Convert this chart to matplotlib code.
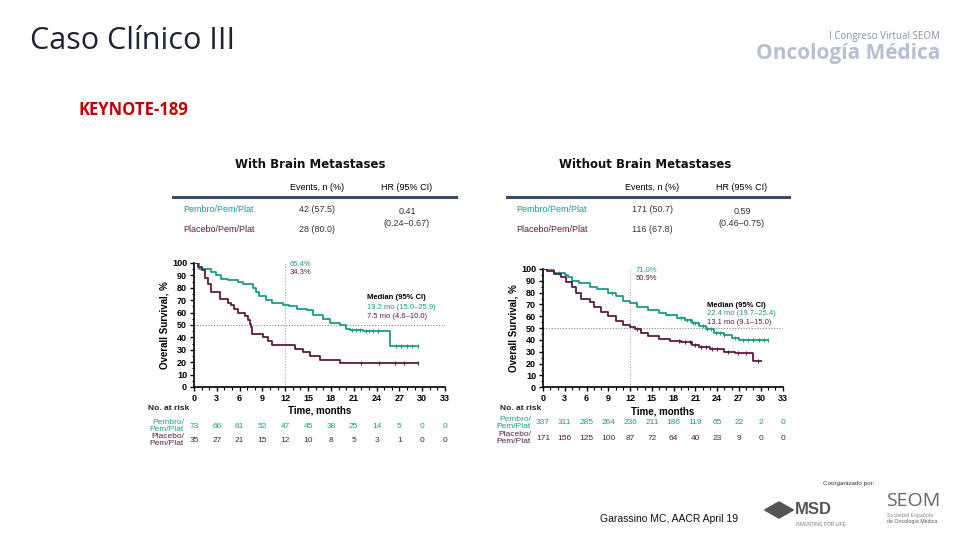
import numpy as np
import matplotlib
matplotlib.use("Agg")
import matplotlib.pyplot as plt
from matplotlib.ticker import MultipleLocator
import matplotlib.transforms as mtrans

plt.rcParams['font.family'] = ['Liberation Sans', 'DejaVu Sans']

TEAL = '#1f9a8a'
PURP = '#5a1d40'
GRAY = '#777777'

# ---------------- data ----------------
months_ticks = [0, 3, 6, 9, 12, 15, 18, 21, 24, 27, 30, 33]

# With brain metastases
wb_pem_t = [0, 0.66, 2.3, 2.9, 3.6, 4.5, 5.8, 6.5, 7.8, 8.2, 8.6, 9.5, 10.2, 11.7, 12.5, 13.5,
            14.8, 15.7, 17.0, 17.9, 19.2, 20.0, 20.5, 22.2, 25.8]
wb_pem_s = [100, 95, 93, 90, 87, 86, 85, 83, 80, 77, 73, 70, 68, 66, 65, 63,
            62, 58, 55, 52, 50, 47, 46, 45, 33]
wb_pem_end = 29.5
wb_pem_cens = [20.8, 21.3, 21.8, 22.6, 23.0, 23.5, 24.2, 26.5, 27.2, 28.0, 28.6, 29.5]

wb_pla_t = [0, 0.5, 1.0, 1.4, 1.8, 2.3, 3.4, 4.5, 4.9, 5.3, 5.8, 6.7, 7.1, 7.3, 7.5, 7.6,
            9.1, 9.7, 10.2, 13.3, 14.3, 15.2, 16.5, 19.2]
wb_pla_s = [100, 97, 94, 88, 83, 77, 71, 68, 66, 63, 60, 57, 54, 51, 48, 43,
            40, 37, 34, 31, 28, 25, 22, 19]
wb_pla_end = 29.5
wb_pla_cens = [22.0, 24.3, 26.4, 27.6, 29.5]

wb_risk_pem = [73, 66, 61, 52, 47, 45, 38, 25, 14, 5, 0, 0]
wb_risk_pla = [35, 27, 21, 15, 12, 10, 8, 5, 3, 1, 0, 0]

# Without brain metastases
nb_pem_t = [0, 0.5, 1.5, 3, 3.5, 4, 5, 6.5, 7.5, 9, 10, 11, 12, 13, 14.5, 16, 17, 18.5,
            19.5, 20.5, 21.5, 22.5, 23.5, 25, 26, 27]
nb_pem_s = [100, 99, 97, 95, 93, 90, 88, 85, 83, 80, 77, 73, 71, 68, 65, 63, 61, 59,
            57, 54, 52, 49, 46, 44, 42, 40]
nb_pem_end = 31.0
nb_pem_cens = [2.2, 4.0, 9.5, 12.8, 19.0, 19.4, 19.8, 20.2, 20.6, 21.0, 21.4, 22.0, 22.6,
               23.2, 23.8, 24.4, 25.0, 26.5, 27.5, 28.2, 29.0, 29.8, 30.5, 31.0]

nb_pla_t = [0, 0.5, 1.5, 2.5, 3.2, 4, 4.5, 5.3, 6.5, 7, 8, 9, 10, 11, 12, 12.7, 13.5,
            14.5, 16, 17.5, 19, 20.5, 21.5, 23, 25, 26.5, 29]
nb_pla_s = [100, 98, 96, 93, 89, 85, 80, 75, 72, 68, 64, 60, 56, 53, 51, 49, 46,
            43, 41, 39, 38, 36, 34, 32, 30, 29, 22]
nb_pla_end = 30.0
nb_pla_cens = [13.0, 18.8, 19.6, 20.2, 21.0, 21.8, 22.5, 23.3, 24.0, 25.5, 26.8, 28.0, 29.6]

nb_risk_pem = [337, 311, 285, 264, 236, 211, 186, 119, 65, 22, 2, 0]
nb_risk_pla = [171, 156, 125, 100, 87, 72, 64, 40, 23, 9, 0, 0]

fig = plt.figure(figsize=(9.6, 5.4), dpi=100)
fig.patch.set_facecolor('white')

def px(x, y):
    return x / 960, 1 - y / 540

def step_val(t, s, x):
    idx = np.searchsorted(t, x, side='right') - 1
    return np.array(s)[idx]

def km(ax, t, s, end, cens, color):
    tt = list(t) + [end]
    ss = list(s) + [s[-1]]
    ax.step(tt, ss, where='post', color=color, lw=1.3, zorder=3)
    cy = step_val(np.array(t), s, np.array(cens))
    ax.plot(cens, cy, ls='none', marker='|', ms=3.5, mew=0.8, color=color, zorder=3)

def setup(ax):
    ax.set_xlim(0, 33)
    ax.set_ylim(0, 100)
    ax.set_xticks(months_ticks)
    ax.set_yticks(range(0, 101, 10))
    ax.xaxis.set_minor_locator(MultipleLocator(1))
    ax.yaxis.set_minor_locator(MultipleLocator(5))
    for sp in ['top', 'right']:
        ax.spines[sp].set_visible(False)
    for sp in ['left', 'bottom']:
        ax.spines[sp].set_linewidth(1.2)
    ax.tick_params(axis='both', which='major', labelsize=6.5, length=3, width=1, pad=2)
    ax.tick_params(axis='both', which='minor', length=1.8, width=0.8)
    for lab in ax.get_xticklabels() + ax.get_yticklabels():
        lab.set_fontweight('bold')
    ax.set_xlabel('Time, months', fontsize=7, fontweight='bold', labelpad=2)
    ax.set_ylabel('Overall Survival, %', fontsize=7, fontweight='bold', labelpad=2)
    ax.axhline(50, color='#888888', ls=(0, (1, 1.5)), lw=0.8, zorder=1)
    ax.plot([12, 12], [0, 100], color='#aaaaaa', ls=(0, (1, 1.5)), lw=0.8, zorder=1)

def risk(ax, pem, pla, y_lab, y_pem, y_pla, x_lab, x_row):
    tr = mtrans.blended_transform_factory(ax.transData, fig.transFigure)
    for m, a, b in zip(months_ticks, pem, pla):
        ax.text(m, 1 - y_pem / 540, str(a), transform=tr, ha='center', va='center',
                fontsize=6, color=TEAL, clip_on=False)
        ax.text(m, 1 - y_pla / 540, str(b), transform=tr, ha='center', va='center',
                fontsize=6, color=PURP, clip_on=False)
    fig.text(*px(x_lab, y_lab), 'No. at risk', fontsize=6, fontweight='bold',
             color='#222222', ha='left', va='center')
    fig.text(*px(x_row, y_pem), 'Pembro/\nPem/Plat', fontsize=6, color=TEAL,
             ha='right', va='center', linespacing=1.0)
    fig.text(*px(x_row, y_pla), 'Placebo/\nPem/Plat', fontsize=6, color=PURP,
             ha='right', va='center', linespacing=1.0)

# ---- left KM ----
axL = fig.add_axes([194 / 960, 1 - 387 / 540, 251 / 960, 124 / 540])
setup(axL)
km(axL, wb_pem_t, wb_pem_s, wb_pem_end, wb_pem_cens, TEAL)
km(axL, wb_pla_t, wb_pla_s, wb_pla_end, wb_pla_cens, PURP)
axL.text(12.6, 99, '65.4%', color=TEAL, fontsize=5.5, va='center')
axL.text(12.6, 92, '34.3%', color=PURP, fontsize=5.5, va='center')
axL.text(22.8, 72, 'Median (95% CI)', fontsize=5.5, fontweight='bold', va='center')
axL.text(22.8, 64.5, '19.2 mo (15.0–25.9)', fontsize=5.5, color=TEAL, va='center')
axL.text(22.8, 57, '7.5 mo (4.6–10.0)', fontsize=5.5, color=PURP, va='center')
risk(axL, wb_risk_pem, wb_risk_pla, 408, 426, 440, 148, 184)

# ---- right KM ----
axR = fig.add_axes([543 / 960, 1 - 387.3 / 540, 239.5 / 960, 118.3 / 540])
setup(axR)
km(axR, nb_pem_t, nb_pem_s, nb_pem_end, nb_pem_cens, TEAL)
km(axR, nb_pla_t, nb_pla_s, nb_pla_end, nb_pla_cens, PURP)
axR.text(12.8, 99, '71.0%', color=TEAL, fontsize=5.5, va='center')
axR.text(12.8, 92, '50.9%', color=PURP, fontsize=5.5, va='center')
axR.text(22.6, 69.5, 'Median (95% CI)', fontsize=5.5, fontweight='bold', va='center')
axR.text(22.6, 62, '22.4 mo (19.7–25.4)', fontsize=5.5, color=TEAL, va='center')
axR.text(22.6, 54.5, '13.1 mo (9.1–15.0)', fontsize=5.5, color=PURP, va='center')
risk(axR, nb_risk_pem, nb_risk_pla, 408, 423, 438, 500, 531)

# ---- tables ----
def table(x0, x1, xc_head, head, x_name, x_ev, x_hr, ev_pem, ev_pla, hr, ci):
    fig.text(*px(xc_head, 165), head, fontsize=8.5, fontweight='bold',
             family=['DejaVu Sans'], ha='center', va='center', color='#111111')
    fig.text(*px(x_ev, 188), 'Events, n (%)', fontsize=6.5, ha='center', va='center')
    fig.text(*px(x_hr, 188), 'HR (95% CI)', fontsize=6.5, ha='center', va='center')
    fig.add_artist(plt.Line2D([x0 / 960, x1 / 960], [1 - 197 / 540] * 2,
                              color='#3a4a6a', lw=2.2))
    fig.text(*px(x_name, 209), 'Pembro/Pem/Plat', fontsize=6.5, color=TEAL,
             ha='left', va='center')
    fig.text(*px(x_name, 229), 'Placebo/Pem/Plat', fontsize=6.5, color=PURP,
             ha='left', va='center')
    fig.text(*px(x_ev, 209), ev_pem, fontsize=6.5, color='#333333', ha='center', va='center')
    fig.text(*px(x_ev, 229), ev_pla, fontsize=6.5, color='#333333', ha='center', va='center')
    fig.text(*px(x_hr, 212), hr, fontsize=6.5, color='#333333', ha='center', va='center')
    fig.text(*px(x_hr, 224), ci, fontsize=6.5, color='#333333', ha='center', va='center')

table(173, 456, 310, 'With Brain Metastases', 183, 317, 407,
      '42 (57.5)', '28 (80.0)', '0.41', '(0.24–0.67)')
table(507, 789, 645, 'Without Brain Metastases', 516, 652, 742,
      '171 (50.7)', '116 (67.8)', '0.59', '(0.46–0.75)')

# ---- slide texts ----
fig.text(*px(30, 41), 'Caso Clínico III', fontsize=22, family=['Open Sans', 'DejaVu Sans'],
         color='#1f2233', ha='left', va='center')
fig.text(*px(78, 110), 'KEYNOTE-189', fontsize=12, fontweight='bold',
         family=['Open Sans', 'DejaVu Sans'], color='#c00000', ha='left', va='center')

fig.text(*px(940, 36), 'I Congreso Virtual SEOM', fontsize=7, color='#8592a8',
         family=['Open Sans', 'DejaVu Sans'], ha='right', va='center')
fig.text(*px(940, 53), 'Oncología Médica', fontsize=15, fontweight='bold', color='#b5c0cf',
         family=['Open Sans', 'DejaVu Sans'], ha='right', va='center')

fig.text(*px(600, 519), 'Garassino MC, AACR April 19', fontsize=7.5, ha='left',
         va='center', color='#111111')
fig.text(*px(823, 484), 'Coorganizado por:', fontsize=4.5, ha='left', va='center',
         color='#333333')
fig.text(*px(795, 510), 'MSD', fontsize=12, fontweight='bold', ha='left', va='center',
         color='#555555')
fig.text(*px(796, 524), 'INVENTING FOR LIFE', fontsize=3.5, ha='left', va='center',
         color='#777777')
fig.add_artist(matplotlib.patches.RegularPolygon((779 / 960, 1 - 510 / 540), 4,
               radius=0.015, orientation=0, color='#555555',
               transform=fig.transFigure))
fig.text(*px(886, 501), 'SEOM', fontsize=14, ha='left', va='center', color='#666666',
         family=['Open Sans', 'DejaVu Sans'])
fig.text(*px(887, 516), 'Sociedad Española', fontsize=3.8, ha='left', va='center',
         color='#888888')
fig.text(*px(887, 522), 'de Oncología Médica', fontsize=3.8, ha='left', va='center',
         color='#555555')

fig.savefig('out.png', dpi=100, facecolor='white')
